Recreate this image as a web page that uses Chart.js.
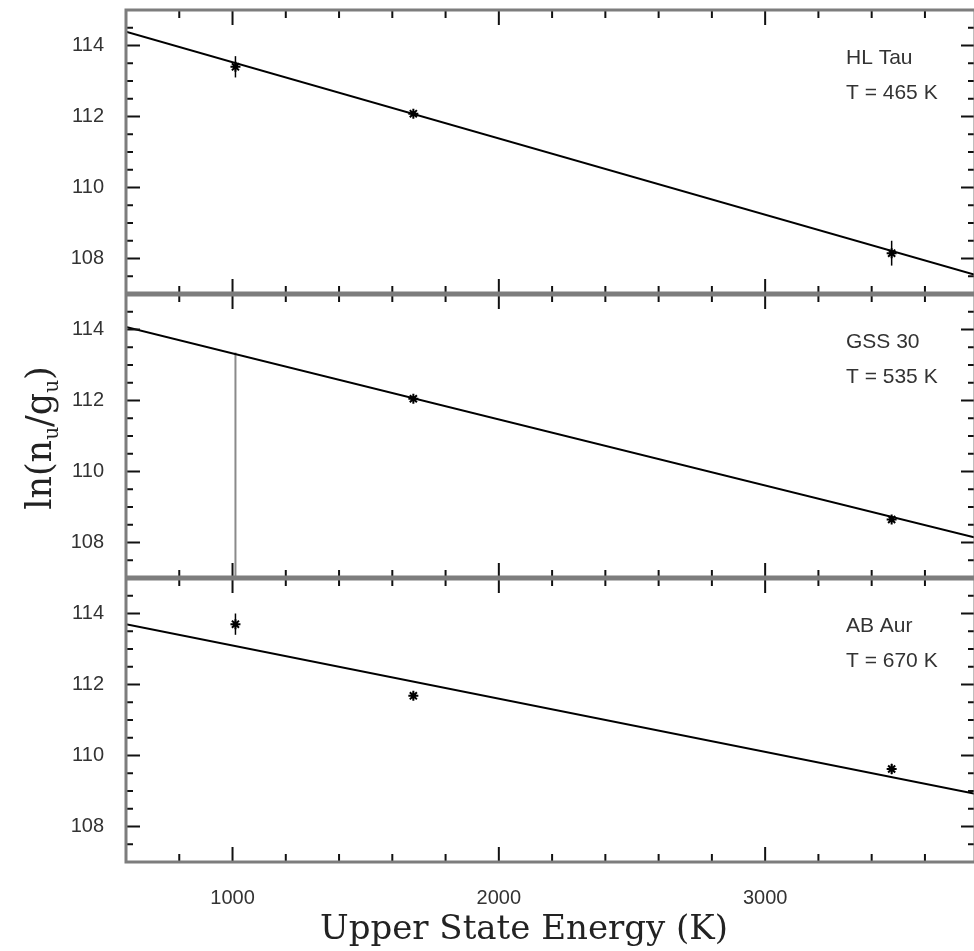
<!DOCTYPE html>
<html>
<head>
<meta charset="utf-8">
<script src="https://cdn.jsdelivr.net/npm/chart.js@4.4.1/dist/chart.umd.min.js"></script>
<style>
  html, body { margin: 0; padding: 0; background: #fff; overflow: hidden; }
  canvas { display: block; }
</style>
</head>
<body>
<canvas id="chart" width="982" height="951"></canvas>
<script>
// panels, top to bottom
const objects = ['HL Tau', 'GSS 30', 'AB Aur'];
const temps = ['T = 465 K', 'T = 535 K', 'T = 670 K'];

// upper state energies of the three lines (K)
const energies = [1011, 1679, 3475];

// ln(n_u/g_u) measured, one list per panel (null = no detection)
const hlTau = [113.4, 112.08, 108.15];
const gss30 = [null, 112.05, 108.65];
const abAur = [113.7, 111.68, 109.62];

// error bar half lengths
const hlTauErr = [0.3, 0.06, 0.35];
const gss30Err = [0, 0.06, 0.08];
const abAurErr = [0.3, 0.1, 0.15];

// fit lines, values at the left and right edges of the plot
const fitEnergy = [600, 3788];
const fitLeft = [114.39, 114.07, 113.70];
const fitRight = [107.54, 108.14, 108.92];

// GSS 30 upper limit at the first line
const limitEnergy = [1011, 1011];
const limitValue = [107, 113.35];

// tick labels
const xLabels = [1000, 2000, 3000];
const yLabels = [108, 110, 112, 114];

const panelIds = ['y1', 'y2', 'y3'];
const values = [hlTau, gss30, abAur];
const errors = [hlTauErr, gss30Err, abAurErr];

const tickFont = { family: 'Liberation Sans, Arial, sans-serif', size: 20 };

function yAxis() {
  return {
    type: 'linear',
    position: 'left',
    stack: 'panels',
    stackWeight: 1,
    offset: false,
    min: 107,
    max: 115,
    grid: { display: false },
    border: { display: false },
    afterBuildTicks: s => { s.ticks = yLabels.map(v => ({ value: v })); },
    afterFit: s => { s.width = 126; s.paddingTop = 0; s.paddingBottom = 0; },
    ticks: { color: '#333', font: tickFont, padding: 14, callback: v => String(v) }
  };
}

const datasets = [];
panelIds.forEach((id, i) => {
  datasets.push({
    label: objects[i] + ' fit',
    yAxisID: id,
    showLine: true,
    data: [{ x: fitEnergy[0], y: fitLeft[i] }, { x: fitEnergy[1], y: fitRight[i] }],
    borderColor: '#000',
    borderWidth: 2,
    pointRadius: 0
  });
  datasets.push({
    label: objects[i],
    yAxisID: id,
    data: energies.map((e, j) => ({ x: e, y: values[i][j] })).filter(p => p.y !== null),
    errors: errors[i].filter((e, j) => values[i][j] !== null),
    pointStyle: 'star',
    pointRadius: 5,
    borderColor: '#000',
    borderWidth: 2
  });
});
datasets.push({
  label: 'GSS 30 limit',
  yAxisID: 'y2',
  showLine: true,
  data: limitEnergy.map((e, j) => ({ x: e, y: limitValue[j] })),
  borderColor: '#8a8a8a',
  borderWidth: 2,
  pointRadius: 0
});

function line(ctx, x1, y1, x2, y2) {
  ctx.beginPath();
  ctx.moveTo(x1, y1);
  ctx.lineTo(x2, y2);
  ctx.stroke();
}

// error bars
const errorBars = {
  id: 'errorBars',
  afterDatasetsDraw(chart) {
    const ctx = chart.ctx;
    ctx.save();
    ctx.strokeStyle = '#000';
    ctx.lineWidth = 1.5;
    chart.data.datasets.forEach(ds => {
      if (!ds.errors) return;
      const ys = chart.scales[ds.yAxisID], xs = chart.scales.x;
      ds.data.forEach((p, j) => {
        const px = xs.getPixelForValue(p.x);
        line(ctx, px, ys.getPixelForValue(p.y - ds.errors[j]), px, ys.getPixelForValue(p.y + ds.errors[j]));
      });
    });
    ctx.restore();
  }
};

// boxes, inward ticks and texts
const panelFrame = {
  id: 'panelFrame',
  afterDraw(chart) {
    const ctx = chart.ctx, xs = chart.scales.x, a = chart.chartArea;
    ctx.save();
    ctx.strokeStyle = '#111';
    ctx.lineWidth = 2;
    panelIds.forEach(id => {
      const ys = chart.scales[id];
      for (let v = 800; v < xs.max; v += 200) {
        const px = xs.getPixelForValue(v);
        const len = v % 1000 === 0 ? 15 : 8;
        line(ctx, px, ys.top, px, ys.top + len);
        line(ctx, px, ys.bottom, px, ys.bottom - len);
      }
      for (let v = ys.min + 0.5; v < ys.max; v += 0.5) {
        const py = ys.getPixelForValue(v);
        const len = v % 2 === 0 ? 14 : 7;
        line(ctx, a.left, py, a.left + len, py);
        line(ctx, a.right, py, a.right - len, py);
      }
    });
    ctx.strokeStyle = '#7d7d7d';
    ctx.lineWidth = 3;
    ctx.strokeRect(a.left, a.top, a.right - a.left, a.bottom - a.top);
    ctx.lineWidth = 5;
    line(ctx, a.left, chart.scales.y1.bottom, a.right, chart.scales.y1.bottom);
    line(ctx, a.left, chart.scales.y2.bottom, a.right, chart.scales.y2.bottom);

    // panel labels
    ctx.fillStyle = '#333';
    ctx.font = '21px "Liberation Sans", Arial, sans-serif';
    ctx.textAlign = 'left';
    ctx.textBaseline = 'alphabetic';
    panelIds.forEach((id, i) => {
      const ys = chart.scales[id];
      ctx.fillText(objects[i], 846, ys.top + 54);
      ctx.fillText(temps[i], 846, ys.top + 89);
    });

    // x title
    ctx.fillStyle = '#222';
    ctx.font = '34px "DejaVu Serif", serif';
    ctx.textAlign = 'center';
    ctx.textBaseline = 'middle';
    ctx.fillText('Upper State Energy (K)', 524, 930);

    // y title with subscripts
    ctx.translate(40, 438);
    ctx.rotate(-Math.PI / 2);
    const parts = [['ln(n', 0], ['u', 1], ['/g', 0], ['u', 1], [')', 0]];
    const big = '35px "DejaVu Serif", serif', small = '20px "DejaVu Serif", serif';
    let total = 0;
    parts.forEach(p => { ctx.font = p[1] ? small : big; total += ctx.measureText(p[0]).width; });
    let x = -total / 2;
    ctx.textAlign = 'left';
    ctx.textBaseline = 'alphabetic';
    parts.forEach(p => {
      ctx.font = p[1] ? small : big;
      ctx.fillText(p[0], x, p[1] ? 18 : 11);
      x += ctx.measureText(p[0]).width;
    });
    ctx.restore();
  }
};

new Chart(document.getElementById('chart'), {
  type: 'scatter',
  data: { datasets: datasets },
  options: {
    responsive: false,
    animation: false,
    layout: { padding: { left: 0, right: 3, top: 10, bottom: 0 } },
    plugins: { legend: { display: false }, tooltip: { enabled: false } },
    scales: {
      x: {
        type: 'linear',
        position: 'bottom',
        min: 600,
        max: 3788,
        grid: { display: false },
        border: { display: false },
        afterBuildTicks: s => { s.ticks = xLabels.map(v => ({ value: v })); },
        afterFit: s => { s.height = 89; s.paddingLeft = 0; s.paddingRight = 0; },
        ticks: { color: '#333', font: tickFont, padding: 16, maxRotation: 0, callback: v => String(v) }
      },
      y3: yAxis(),
      y2: yAxis(),
      y1: yAxis()
    }
  },
  plugins: [errorBars, panelFrame]
});
</script>
</body>
</html>
